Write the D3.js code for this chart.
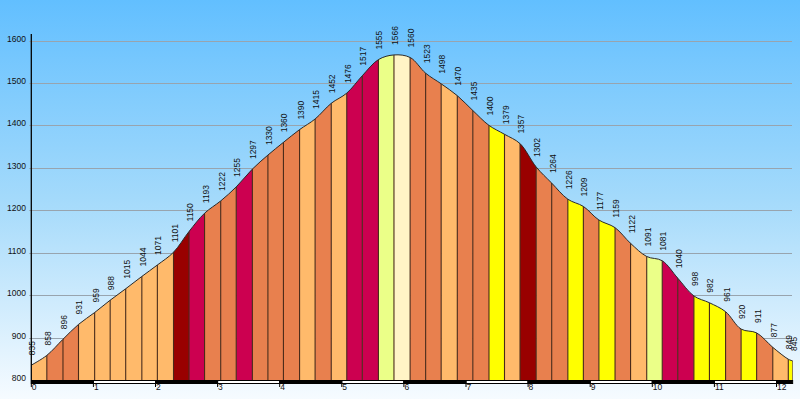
<!DOCTYPE html>
<html>
<head>
<meta charset="utf-8">
<script src="https://cdn.jsdelivr.net/npm/d3@7"></script>
<style>
body { margin:0; padding:0; }
svg { display:block; }
text { font-family:"Liberation Sans", Arial, sans-serif; fill:#111; }
</style>
</head>
<body>
<svg id="profile"></svg>
<script>
// distance along the route (km) of each measured point
var distances = [0, 0.25, 0.51, 0.76, 1.02, 1.27, 1.52, 1.78, 2.03, 2.29,
    2.54, 2.79, 3.05, 3.30, 3.56, 3.81, 4.06, 4.32, 4.57, 4.83,
    5.08, 5.33, 5.59, 5.84, 6.10, 6.35, 6.60, 6.86, 7.11, 7.37,
    7.62, 7.87, 8.13, 8.38, 8.64, 8.89, 9.14, 9.40, 9.65, 9.91,
    10.16, 10.41, 10.67, 10.92, 11.18, 11.43, 11.68, 11.94, 12.19, 12.26]

// elevation (m) at each point
var elevations = [835, 858, 896, 931, 959, 988, 1015, 1044, 1071, 1101,
    1150, 1193, 1222, 1255, 1297, 1330, 1360, 1390, 1415, 1452,
    1476, 1517, 1555, 1566, 1560, 1523, 1498, 1470, 1435, 1400,
    1379, 1357, 1302, 1264, 1226, 1209, 1177, 1159, 1122, 1091,
    1081, 1040, 998, 982, 961, 920, 911, 877, 849, 845]

// gradient band of each section (between point i and i+1)
var gradeBands = ["<3%", "3-6%", "6-9%", "9-12%", "12-15%", "15-18%", ">18%"]
var grades = ["9-12%", "12-15%", "12-15%", "9-12%", "9-12%", "9-12%", "9-12%", "9-12%", "9-12%", ">18%",
    "15-18%", "12-15%", "12-15%", "15-18%", "12-15%", "12-15%", "12-15%", "9-12%", "12-15%", "9-12%",
    "15-18%", "15-18%", "3-6%", "<3%", "12-15%", "12-15%", "9-12%", "12-15%", "12-15%", "6-9%",
    "9-12%", ">18%", "12-15%", "12-15%", "6-9%", "12-15%", "6-9%", "12-15%", "9-12%", "3-6%",
    "15-18%", "15-18%", "6-9%", "6-9%", "12-15%", "6-9%", "12-15%", "9-12%", "6-9%"]

var yTicks = [800, 900, 1000, 1100, 1200, 1300, 1400, 1500, 1600]
var xTicks = [0, 1, 2, 3, 4, 5, 6, 7, 8, 9, 10, 11, 12]

var drawBackground = function(svg, screen)
{
    var defs = svg.append("defs")
    var grad = defs.append("linearGradient")
        .attr("id", "sky")
        .attr("x1", 0).attr("y1", 0)
        .attr("x2", 0).attr("y2", 1)
    grad.append("stop").attr("offset", "0%").attr("stop-color", "#62bfff")
    grad.append("stop").attr("offset", "50%").attr("stop-color", "#a4dafb")
    grad.append("stop").attr("offset", "100%").attr("stop-color", "#f6fbff")

    svg.append("rect")
        .attr("width", screen.width)
        .attr("height", screen.height)
        .attr("fill", "url(#sky)")
}

var drawGrid = function(svg, xScale, yScale)
{
    var grid = svg.append("g")
    grid.selectAll("line")
        .data(yTicks.slice(1))
        .enter()
        .append("line")
        .attr("x1", xScale.range()[0] - 2)
        .attr("x2", 792)
        .attr("y1", function(t) { return Math.round(yScale(t)) + 0.5 })
        .attr("y2", function(t) { return Math.round(yScale(t)) + 0.5 })
        .attr("stroke", "#98a4ae")
        .attr("stroke-width", 1.2)

    grid.selectAll("text")
        .data(yTicks)
        .enter()
        .append("text")
        .text(function(t) { return t })
        .attr("x", 26)
        .attr("y", function(t) { return yScale(t) + 1 })
        .attr("text-anchor", "end")
        .style("font-size", "8.5px")
}

var drawProfile = function(svg, xScale, yScale)
{
    var points = distances.map(function(d, i) { return {km:d, ele:elevations[i]} })
    var base = yScale(800)

    var area = d3.area()
        .x(function(p) { return xScale(p.km) })
        .y0(base)
        .y1(function(p) { return yScale(p.ele) })
        .curve(d3.curveCatmullRom.alpha(0.5))

    var line = d3.line()
        .x(function(p) { return xScale(p.km) })
        .y(function(p) { return yScale(p.ele) })
        .curve(d3.curveCatmullRom.alpha(0.5))

    svg.select("defs").append("clipPath")
        .attr("id", "ground")
        .append("path")
        .attr("d", area(points))

    var colour = d3.scaleOrdinal()
        .domain(gradeBands)
        .range(["#fff4c6", "#ebff88", "#ffff00", "#ffba6b", "#e8804e", "#cc0050", "#990000"])

    var target = svg.append("g").attr("clip-path", "url(#ground)")

    target.selectAll("rect")
        .data(grades)
        .enter()
        .append("rect")
        .attr("x", function(g, i) { return xScale(distances[i]) })
        .attr("width", function(g, i) { return xScale(distances[i + 1]) - xScale(distances[i]) })
        .attr("y", 0)
        .attr("height", base)
        .attr("fill", function(g) { return colour(g) })

    target.selectAll("line")
        .data(distances.slice(1))
        .enter()
        .append("line")
        .attr("x1", function(d) { return xScale(d) })
        .attr("x2", function(d) { return xScale(d) })
        .attr("y1", 0)
        .attr("y2", base)
        .attr("stroke", "#4a2a18")
        .attr("stroke-width", 1.1)

    svg.append("path")
        .attr("d", line(points))
        .attr("fill", "none")
        .attr("stroke", "#2a2a2a")
        .attr("stroke-width", 1)

    svg.append("g")
        .selectAll("text")
        .data(points)
        .enter()
        .append("text")
        .text(function(p) { return p.ele })
        .attr("transform", function(p) {
            return "translate(" + (xScale(p.km) + 4) + "," + (yScale(p.ele) - 10) + ") rotate(-90)"
        })
        .style("font-size", "8.5px")
}

var drawAxes = function(svg, xScale, yScale)
{
    var x0 = xScale.range()[0]
    svg.append("line")
        .attr("x1", x0).attr("x2", x0)
        .attr("y1", 34).attr("y2", yScale(800))
        .attr("stroke", "#000")
        .attr("stroke-width", 1.3)

    // km bar, black and white per kilometre
    var end = distances[distances.length - 1]
    var kms = xTicks.map(function(k) { return [k, Math.min(k + 1, end)] })
    var bar = svg.append("g")
    bar.selectAll("rect")
        .data(kms)
        .enter()
        .append("rect")
        .attr("x", function(k) { return xScale(k[0]) })
        .attr("width", function(k) { return xScale(k[1]) - xScale(k[0]) })
        .attr("y", 380.5)
        .attr("height", 3)
        .attr("fill", function(k, i) { return i % 2 == 0 ? "#000" : "#fff" })
        .attr("stroke", "#000")
        .attr("stroke-width", 1)

    bar.selectAll("line")
        .data(xTicks)
        .enter()
        .append("line")
        .attr("x1", function(k) { return xScale(k) })
        .attr("x2", function(k) { return xScale(k) })
        .attr("y1", 380)
        .attr("y2", 387)
        .attr("stroke", "#000")

    bar.selectAll("text")
        .data(xTicks)
        .enter()
        .append("text")
        .text(function(k) { return k })
        .attr("x", function(k) { return xScale(k) + 0.5 })
        .attr("y", 390)
        .style("font-size", "8.5px")
}

var initGraph = function()
{
    var screen = {width:800, height:399}

    var svg = d3.select("#profile")
        .attr("width", screen.width)
        .attr("height", screen.height)

    var xScale = d3.scaleLinear()
        .domain([0, 12])
        .range([31.3, 776.5])

    var yScale = d3.scaleLinear()
        .domain([800, 1600])
        .range([380, 40.5])

    drawBackground(svg, screen)
    drawGrid(svg, xScale, yScale)
    drawProfile(svg, xScale, yScale)
    drawAxes(svg, xScale, yScale)
}

initGraph()
</script>
</body>
</html>
